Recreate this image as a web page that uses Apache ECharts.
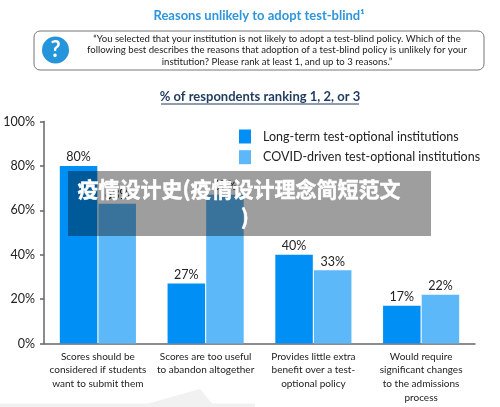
<!DOCTYPE html>
<html><head><meta charset="utf-8">
<style>html,body{margin:0;padding:0;background:#fff}#c{width:500px;height:407px}</style>
<script src="https://cdn.jsdelivr.net/npm/echarts@6/dist/echarts.min.js"></script>
</head><body><div id="c"></div>
<script>
const categories = ["Scores should be\nconsidered if students\nwant to submit them","Scores are too useful\nto abandon altogether","Provides little extra\nbenefit over a test-\noptional policy","Would require\nsignificant changes\nto the admissions\nprocess"];
const seriesNames = ["Long-term test-optional institutions","COVID-driven test-optional institutions"];
const longTerm = [80,27,40,17];
const covidDriven = [63,67,33,22];
const yTicks = [0,20,40,60,80,100];
const titleText = "Reasons unlikely to adopt test-blind¹";
const questionLines = "“You selected that your institution is not likely to adopt a test-blind policy. Which of the\nfollowing best describes the reasons that adoption of a test-blind policy is unlikely for your\ninstitution? Please rank at least 1, and up to 3 reasons.”";
const subtitleText = "% of respondents ranking 1, 2, or 3";
const overlayLine1 = "疫情设计史(疫情设计理念简短范文";
const overlayLine2 = ")";
const font = "Lato, 'Open Sans', sans-serif";
const chart = echarts.init(document.getElementById('c'),null,{renderer:'canvas'});
const lab = {show:true,position:'top',distance:2,formatter:p=>p.value+'%',color:'#222',fontFamily:font,fontSize:12.5};
chart.setOption({
  animation:false,
  backgroundColor:'#fff',
  grid:{left:44,right:25,top:121.5,bottom:63.5,containLabel:false},
  legend:{orient:'vertical',left:239,top:129.5,padding:0,itemWidth:12,itemHeight:14,itemGap:6.7,icon:'rect',
    textStyle:{fontFamily:font,fontSize:12.5,color:'#222',padding:[0,0,0,7]},data:seriesNames},
  xAxis:{type:'category',data:categories,axisTick:{show:false},
    axisLine:{lineStyle:{color:'#666',width:1.5}},
    axisLabel:{interval:0,color:'#222',fontFamily:font,fontSize:10,lineHeight:13.8,margin:6}},
  yAxis:{type:'value',min:0,max:100,interval:20,splitLine:{show:false},
    axisLine:{show:true,lineStyle:{color:'#666',width:1.5}},
    axisTick:{show:true,length:4,lineStyle:{color:'#666',width:1.5}},
    axisLabel:{color:'#222',fontFamily:font,fontSize:12.5,margin:9,formatter:v=>yTicks.includes(v)?v+'%':''}},
  series:[
    {name:seriesNames[0],type:'bar',data:longTerm,barWidth:37.5,barGap:'3%',itemStyle:{color:'#0090F5'},label:lab},
    {name:seriesNames[1],type:'bar',data:covidDriven,barWidth:37.5,barGap:'3%',itemStyle:{color:'#5CB8F8'},label:lab}
  ],
  graphic:[
    {type:'polygon',z:-1,silent:true,shape:{points:[[0,403.5],[148,403.5],[200,389],[212,403.5],[255,403.5],[255,407],[0,407]]},style:{fill:'#f1f1f1'}},
    {type:'text',x:259,y:16,z:5,style:{text:titleText,fill:'#2E96DC',font:"bold 13px "+font,align:'center',verticalAlign:'middle'}},
    {type:'rect',z:5,shape:{x:34,y:31,width:450,height:39,r:6},style:{fill:'#fff',stroke:'#777',lineWidth:1}},
    {type:'circle',z:6,shape:{cx:55.5,cy:50,r:13.5},style:{fill:'#2494DB'}},
    {type:'text',x:55.5,y:50,z:7,style:{text:'?',fill:'#fff',font:"bold 22px "+font,align:'center',verticalAlign:'middle'}},
    {type:'text',x:277,y:50,z:7,style:{text:questionLines,fill:'#222',font:"9.6px "+font,lineHeight:11.5,align:'center',verticalAlign:'middle'}},
    {type:'text',x:260,y:97,z:5,style:{text:subtitleText,fill:'#1F3A5F',font:"bold 13px "+font,align:'center',verticalAlign:'middle'}},
    {type:'line',z:5,shape:{x1:161,y1:104,x2:359,y2:104},style:{stroke:'#1F3A5F',lineWidth:1}},
    {type:'rect',z:100,shape:{x:68,y:171,width:363,height:65},style:{fill:'rgba(0,0,0,0.38)'}},
    {type:'text',x:239,y:189,z:101,style:{text:overlayLine1,fill:'#fff',stroke:'#fff',lineWidth:0.5,font:"bold 21px 'Noto Sans CJK SC'",align:'center',verticalAlign:'middle'}},
    {type:'text',x:245,y:217,z:101,style:{text:overlayLine2,fill:'#fff',stroke:'#fff',lineWidth:0.5,font:"bold 21px 'Noto Sans CJK SC'",align:'center',verticalAlign:'middle'}}
  ]
});
</script></body></html>
